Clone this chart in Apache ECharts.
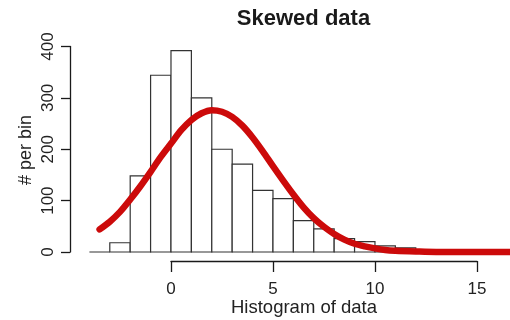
<!DOCTYPE html>
<html>
<head>
<meta charset="utf-8">
<script src="https://cdn.jsdelivr.net/npm/echarts@6/dist/echarts.min.js"></script>
<style>
  html, body { margin: 0; padding: 0; background: #fff; }
  #chart { width: 510px; height: 320px; }
</style>
</head>
<body>
<div id="chart"></div>
<script>
// Histogram bins: left edge of each unit-wide bin and its count
const binLeft = [-4, -3, -2, -1, 0, 1, 2, 3, 4, 5, 6, 7, 8, 9, 10, 11];
const binCount = [0, 18, 148, 344, 392, 300, 200, 171, 120, 104, 61, 45, 26, 20, 12, 8];
const binWidth = 1;

// Fitted density curve, scaled to counts per bin
const curveX = [-3.5, -3, -2.5, -2, -1.5, -1, -0.5, 0, 0.5, 1, 1.5, 2, 2.5, 3, 3.5, 4, 4.5, 5, 5.5, 6, 6.5, 7, 7.5, 8, 8.5, 9, 9.5, 10, 10.5, 11, 12, 13, 14, 15, 16, 17];
const curveY = [44, 59, 78, 102, 128, 156, 185, 211, 237, 257, 270, 276, 273, 263, 246, 223, 196, 167, 139, 112, 87, 66, 49, 35, 24, 16, 11, 7, 4, 2.5, 1, 0, 0, 0, 0, 0];

// Axis ticks
const xTicks = [0, 5, 10, 15];
const yTicks = [0, 100, 200, 300, 400];

const FONT = 'Liberation Sans';
const INK = '#1a1a1a';

const bins = binLeft.map((l, i) => [l, l + binWidth, binCount[i]]);
const curve = curveX.map((x, i) => [x, curveY[i]]);

const chart = echarts.init(document.getElementById('chart'), null, { renderer: 'canvas' });

chart.setOption({
  backgroundColor: '#ffffff',
  animation: false,
  grid: [
    // plotting area (data coordinates)
    { left: 69, top: 25.95, width: 441, height: 236.3 },
    // detached y axis, spanning 0..400
    { left: 70, top: 46.5, width: 10, height: 205.5 },
    // detached x axis, spanning 0..15
    { left: 171, top: 200, width: 306, height: 61 }
  ],
  xAxis: [
    { gridIndex: 0, type: 'value', min: -5, max: 16.62, show: false },
    { gridIndex: 1, type: 'value', min: 0, max: 1, show: false },
    {
      gridIndex: 2, type: 'value', min: xTicks[0], max: xTicks[xTicks.length - 1],
      interval: xTicks[1] - xTicks[0], position: 'bottom',
      axisLine: { show: true, lineStyle: { color: INK, width: 1.3 } },
      axisTick: { show: true, inside: false, length: 11, lineStyle: { color: INK, width: 1.3 } },
      axisLabel: { show: true, margin: 20, color: '#222', fontFamily: FONT, fontSize: 17,
        showMinLabel: true, showMaxLabel: true },
      splitLine: { show: false }
    }
  ],
  yAxis: [
    { gridIndex: 0, type: 'value', min: -20, max: 440, show: false },
    {
      gridIndex: 1, type: 'value', min: yTicks[0], max: yTicks[yTicks.length - 1],
      interval: yTicks[1] - yTicks[0], position: 'left',
      axisLine: { show: true, lineStyle: { color: INK, width: 1.3 } },
      axisTick: { show: true, inside: false, length: 9, lineStyle: { color: INK, width: 1.3 } },
      axisLabel: { show: true, rotate: 90, margin: 13, color: '#222', fontFamily: FONT, fontSize: 17,
        showMinLabel: true, showMaxLabel: true },
      splitLine: { show: false }
    },
    { gridIndex: 2, type: 'value', min: 0, max: 1, show: false }
  ],
  series: [
    {
      type: 'custom',
      xAxisIndex: 0, yAxisIndex: 0,
      data: bins,
      renderItem: function (params, api) {
        const p0 = api.coord([api.value(0), 0]);
        const p1 = api.coord([api.value(1), api.value(2)]);
        return {
          type: 'rect',
          shape: { x: p0[0], y: p1[1], width: p1[0] - p0[0], height: p0[1] - p1[1] },
          style: { fill: '#ffffff', stroke: '#333333', lineWidth: 1.2 }
        };
      },
      z: 2
    },
    {
      type: 'line',
      xAxisIndex: 0, yAxisIndex: 0,
      data: curve,
      smooth: 0.3,
      showSymbol: false,
      symbol: 'none',
      lineStyle: { color: '#cc0a0a', width: 6.5, cap: 'round', join: 'round' },
      z: 3
    }
  ],
  graphic: [
    {
      type: 'text', x: 303.5, y: 19,
      style: { text: 'Skewed data', font: 'bold 22px "' + FONT + '"', fill: '#1a1a1a',
        align: 'center', verticalAlign: 'middle' }
    },
    {
      type: 'text', x: 304, y: 308,
      style: { text: 'Histogram of data', font: '18.5px "' + FONT + '"', fill: '#222',
        align: 'center', verticalAlign: 'middle' }
    },
    {
      type: 'text', x: 26, y: 150, rotation: Math.PI / 2,
      style: { text: '# per bin', font: '18px "' + FONT + '"', fill: '#222',
        align: 'center', verticalAlign: 'middle' }
    }
  ]
});
</script>
</body>
</html>
